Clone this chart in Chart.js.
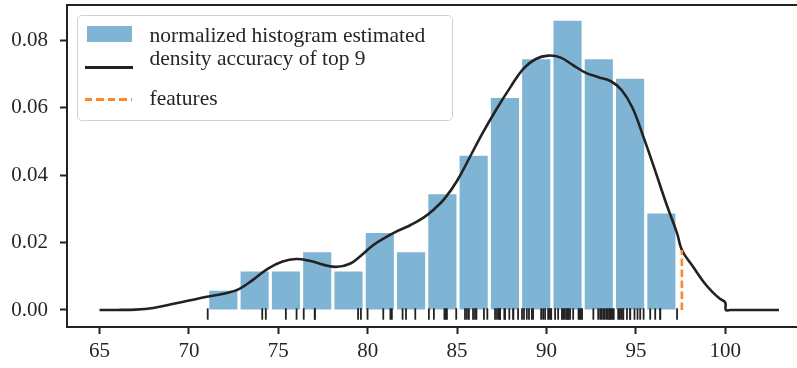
<!DOCTYPE html>
<html>
<head>
<meta charset="utf-8">
<script src="https://cdn.jsdelivr.net/npm/chart.js@4.4.1/dist/chart.umd.min.js"></script>
<style>
  html, body { margin: 0; padding: 0; background: #fff; overflow: hidden; }
  #wrap { position: relative; width: 797px; height: 368px; }
  #c { position: absolute; left: 0; top: 0; }
  .lg-box { position: absolute; left: 77px; top: 15px; width: 376px; height: 106px;
            box-sizing: border-box; border: 1.2px solid #d2d2d2; border-radius: 5px;
            background: rgba(255,255,255,0.85); }
  .lg-item { position: absolute; }
  .lg-text { position: absolute; left: 149.5px; font-family: 'Liberation Serif', 'Times New Roman', serif;
             font-size: 21.5px; line-height: 21.5px; color: #262626; white-space: nowrap; }
</style>
</head>
<body>
<div id="wrap">
  <canvas id="c" width="797" height="368"></canvas>
  <div id="legend"></div>
</div>
<script>
// ---- data ---------------------------------------------------------------
const seriesLabels = ['normalized histogram estimated', 'density accuracy of top 9', 'features'];

// histogram: 15 equal bins starting at the smallest sample
const binStart = 71.05;
const binWidth = 1.75;
const binCounts = [1, 2, 2, 3, 2, 4, 3, 6, 8, 11, 13, 15, 13, 12, 5];

// individual accuracies (rug marks)
const samples = [
  71.05,
  74.10, 74.30,
  75.42, 76.02,
  76.42, 77.04, 77.04,
  79.46, 79.62,
  79.99, 80.87, 81.27, 81.35,
  81.95, 82.14, 82.66,
  83.42, 83.70, 84.29, 84.36, 84.43, 84.95,
  85.44, 85.55, 85.66, 85.89, 86.00, 86.08, 86.50, 86.69,
  87.12, 87.23, 87.32, 87.40, 87.40, 87.64, 87.68, 87.92, 88.14, 88.14, 88.41,
  88.63, 88.74, 88.90, 89.02, 89.18, 89.25, 89.70, 89.81, 89.92, 90.09, 90.17, 90.26, 90.26,
  90.48, 90.65, 90.86, 90.93, 91.01, 91.10, 91.15, 91.23, 91.23, 91.32, 91.49, 91.79, 91.85, 91.92, 91.99,
  92.62, 92.89, 93.00, 93.08, 93.17, 93.25, 93.34, 93.42, 93.50, 93.56, 93.62, 93.70, 93.76,
  94.01, 94.10, 94.18, 94.29, 94.29, 94.50, 94.68, 94.68, 94.92, 95.09, 95.24, 95.43,
  95.80, 96.08, 96.36, 96.36, 97.30
];

// estimated density curve
const kdeX = [65, 66, 67, 68, 69, 70, 71, 72, 72.8, 73.6, 74.4, 75.2, 76.0, 76.8, 77.6,
  78.3, 79.0, 79.6, 80.3, 81.0, 81.7, 82.4, 83.1, 83.7, 84.3, 85.0, 85.7, 86.4, 87.2,
  88.0, 88.7, 89.4, 90.1, 90.8, 91.5, 92.2, 92.9, 93.6, 94.2, 94.8, 95.4, 96.0,
  96.7, 97.3, 97.57, 98.2, 98.8, 99.3, 99.7, 100.0, 100.03, 100.3, 103.0];
const kdeY = [0, 0.00002, 0.0001, 0.0006, 0.0017, 0.0028, 0.0039, 0.0049, 0.0062, 0.0090, 0.0122,
  0.0143, 0.0151, 0.0145, 0.0133, 0.0128, 0.0137, 0.0160, 0.0192, 0.0215, 0.0235, 0.0252, 0.0273,
  0.0298, 0.0330, 0.0383, 0.0452, 0.0522, 0.0595, 0.0662, 0.0715, 0.0744, 0.0754, 0.0748, 0.0725,
  0.0703, 0.0690, 0.0678, 0.0652, 0.0600, 0.0516, 0.0425, 0.0315, 0.0228, 0.0178, 0.0128,
  0.0082, 0.0052, 0.0033, 0.0022, 0, 0, 0];

// feature marker
const featureX = 97.57;
const featureY = 0.0178;

const xTicks = [65, 70, 75, 80, 85, 90, 95, 100];
const yTicks = [0, 0.02, 0.04, 0.06, 0.08];

// ---- styling -------------------------------------------------------------
const FONT = "'Liberation Serif', 'Times New Roman', serif";
const INK = '#262626';
const SPINE = '#222222';
const BAR = 'rgb(128,180,212)';
const CURVE = '#222222';
const ORANGE = 'rgb(252,135,45)';
const RUG_Y = -0.00119;

Chart.defaults.font.family = FONT;
Chart.defaults.font.size = 21;
Chart.defaults.color = INK;

const total = binCounts.reduce((a, b) => a + b, 0);
const barData = binCounts.map((c, i) => ({
  x: binStart + binWidth * (i + 0.5),
  y: c / (total * binWidth)
}));
const kdeData = kdeX.map((x, i) => ({ x, y: kdeY[i] }));
const rugData = samples.map(v => ({ x: v, y: RUG_Y }));

// top edge of the plot frame
const frameTop = {
  id: 'frameTop',
  afterDraw(chart) {
    const { ctx, chartArea: a } = chart;
    ctx.save();
    ctx.strokeStyle = SPINE;
    ctx.lineWidth = 2;
    ctx.beginPath();
    ctx.moveTo(a.left - 1, a.top);
    ctx.lineTo(a.right, a.top);
    ctx.stroke();
    ctx.restore();
  }
};

const axisGrid = {
  display: true, drawOnChartArea: false, drawTicks: true,
  tickLength: 7, tickWidth: 2, tickColor: SPINE, offset: false
};

const chart = new Chart(document.getElementById('c'), {
  type: 'bar',
  data: {
    datasets: [
      { type: 'bar', label: seriesLabels[0], data: barData, backgroundColor: BAR,
        borderWidth: 0, barPercentage: 0.9, categoryPercentage: 1, order: 4 },
      { type: 'line', label: seriesLabels[1], data: kdeData, borderColor: CURVE, borderWidth: 2.6,
        pointRadius: 0, tension: 0.4, fill: false, order: 3 },
      { type: 'line', label: seriesLabels[2], data: [{ x: featureX, y: 0 }, { x: featureX, y: featureY }],
        borderColor: ORANGE, borderWidth: 2.6, borderDash: [7.5, 3.5], pointRadius: 0, fill: false, order: 2 },
      { type: 'scatter', label: 'rug', data: rugData, showLine: false,
        pointStyle: 'line', pointRadius: 5.7, pointHoverRadius: 5.7, pointRotation: 90,
        pointBorderColor: CURVE, pointBorderWidth: 1.8, order: 1 }
    ]
  },
  options: {
    responsive: false,
    animation: false,
    events: [],
    layout: { autoPadding: false, padding: { top: 5, left: 0, right: 0, bottom: 0 } },
    plugins: { legend: { display: false }, tooltip: { enabled: false } },
    scales: {
      x: {
        type: 'linear', min: 63.18, max: 104.01, offset: false,
        grid: axisGrid,
        border: { display: true, width: 2, color: SPINE },
        ticks: { padding: 5, color: INK, font: { size: 21 }, maxRotation: 0 },
        afterBuildTicks: s => { s.ticks = xTicks.map(v => ({ value: v })); },
        afterFit: s => { s.height = 41; s.paddingLeft = 0; s.paddingRight = 0; }
      },
      y: {
        type: 'linear', min: -0.00504, max: 0.0904,
        grid: axisGrid,
        border: { display: true, width: 2, color: SPINE },
        ticks: { padding: 12, color: INK, font: { size: 21 }, callback: v => Number(v).toFixed(2) },
        afterBuildTicks: s => { s.ticks = yTicks.map(v => ({ value: v })); },
        afterFit: s => { s.width = 67; s.paddingTop = 0; s.paddingBottom = 0; }
      }
    }
  },
  plugins: [frameTop]
});

// ---- legend --------------------------------------------------------------
(function buildLegend() {
  const host = document.getElementById('legend');
  const box = document.createElement('div');
  box.className = 'lg-box';
  host.appendChild(box);
  const ds = chart.data.datasets;

  const patch = document.createElement('div');
  patch.className = 'lg-item';
  Object.assign(patch.style, { left: '86.7px', top: '26px', width: '45px', height: '15.7px', background: ds[0].backgroundColor });
  host.appendChild(patch);

  const line = document.createElement('div');
  line.className = 'lg-item';
  Object.assign(line.style, { left: '85px', top: '66px', width: '47.5px', height: '2.7px', background: ds[1].borderColor });
  host.appendChild(line);

  const dash = document.createElement('div');
  dash.className = 'lg-item';
  Object.assign(dash.style, { left: '85px', top: '98px', width: '47px', height: '2.7px',
    background: `repeating-linear-gradient(to right, ${ds[2].borderColor} 0 7.5px, transparent 7.5px 11.5px)` });
  host.appendChild(dash);

  const tops = [24.7, 48.0, 88.0];
  [0, 1, 2].forEach(i => {
    const t = document.createElement('div');
    t.className = 'lg-text';
    t.style.top = tops[i] + 'px';
    t.textContent = ds[i].label;
    host.appendChild(t);
  });
})();
</script>
</body>
</html>
